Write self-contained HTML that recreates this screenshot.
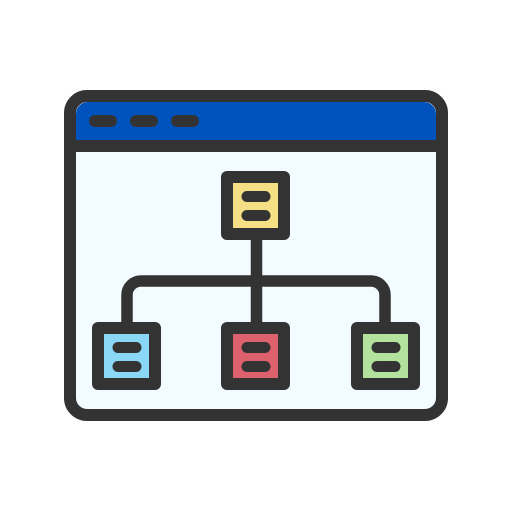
<!DOCTYPE html>
<html><head><style>html,body{margin:0;padding:0;background:#fff;}</style></head>
<body>
<svg width="512" height="512" viewBox="0 0 512 512" xmlns="http://www.w3.org/2000/svg">
<rect x="70" y="96" width="372" height="319" rx="17" fill="#f2fbff" stroke="#333" stroke-width="12"/>
<path d="M76 146 V114 a12 12 0 0 1 12 -12 H424 a12 12 0 0 1 12 12 V146 Z" fill="#0052bd"/>
<line x1="70" y1="146" x2="442" y2="146" stroke="#333" stroke-width="12"/>
<g stroke="#333" stroke-width="12" stroke-linecap="round">
<line x1="95" y1="121" x2="111" y2="121"/>
<line x1="136" y1="121" x2="152" y2="121"/>
<line x1="177" y1="121" x2="193" y2="121"/>
</g>
<g fill="none" stroke="#333" stroke-width="11.5">
<line x1="256.5" y1="240" x2="256.5" y2="322"/>
<path d="M127 322 V295 a14 14 0 0 1 14 -14 H371 a14 14 0 0 1 14 14 V322"/>
</g>
<g stroke="#333" stroke-width="12" stroke-linejoin="round">
<rect x="227" y="177" width="57" height="57" fill="#f5df84"/>
<rect x="98" y="328" width="57" height="56" fill="#8ad8f5"/>
<rect x="227" y="328" width="57" height="56" fill="#dc616d"/>
<rect x="357" y="328" width="57" height="56" fill="#b2e29e"/>
</g>
<g stroke="#333" stroke-width="11" stroke-linecap="round">
<line x1="247" y1="196.5" x2="265" y2="196.5"/><line x1="247" y1="215.5" x2="265" y2="215.5"/>
<line x1="118" y1="347.5" x2="136" y2="347.5"/><line x1="118" y1="366.5" x2="136" y2="366.5"/>
<line x1="247" y1="347.5" x2="265" y2="347.5"/><line x1="247" y1="366.5" x2="265" y2="366.5"/>
<line x1="377" y1="347.5" x2="395" y2="347.5"/><line x1="377" y1="366.5" x2="395" y2="366.5"/>
</g>
</svg>
</body></html>
